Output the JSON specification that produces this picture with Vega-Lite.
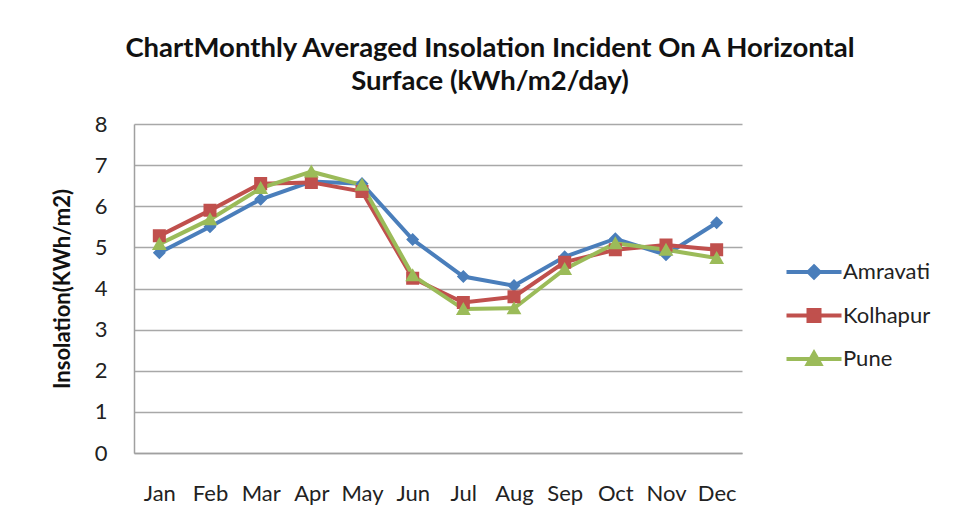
{
  "$schema": "https://vega.github.io/schema/vega-lite/v6.json",
  "width": 608,
  "height": 329,
  "autosize": {"type": "none"},
  "padding": {"left": 134, "top": 124, "right": 215, "bottom": 72},
  "background": "white",
  "title": {
    "text": ["ChartMonthly Averaged Insolation Incident On A Horizontal", "Surface (kWh/m2/day)"],
    "anchor": "middle",
    "frame": "group",
    "dx": 52,
    "offset": 18,
    "font": "Lato",
    "fontSize": 27.5,
    "fontWeight": "bold",
    "lineHeight": 33,
    "color": "#111111"
  },
  "config": {
    "view": {"stroke": null},
    "font": "Lato"
  },
  "data": {
    "values": [
      {"month": "Jan", "city": "Amravati", "value": 4.87},
      {"month": "Feb", "city": "Amravati", "value": 5.5},
      {"month": "Mar", "city": "Amravati", "value": 6.17},
      {"month": "Apr", "city": "Amravati", "value": 6.6},
      {"month": "May", "city": "Amravati", "value": 6.55},
      {"month": "Jun", "city": "Amravati", "value": 5.19},
      {"month": "Jul", "city": "Amravati", "value": 4.29},
      {"month": "Aug", "city": "Amravati", "value": 4.07},
      {"month": "Sep", "city": "Amravati", "value": 4.77},
      {"month": "Oct", "city": "Amravati", "value": 5.21},
      {"month": "Nov", "city": "Amravati", "value": 4.82},
      {"month": "Dec", "city": "Amravati", "value": 5.6},
      {"month": "Jan", "city": "Kolhapur", "value": 5.28},
      {"month": "Feb", "city": "Kolhapur", "value": 5.9},
      {"month": "Mar", "city": "Kolhapur", "value": 6.55},
      {"month": "Apr", "city": "Kolhapur", "value": 6.58},
      {"month": "May", "city": "Kolhapur", "value": 6.36},
      {"month": "Jun", "city": "Kolhapur", "value": 4.25},
      {"month": "Jul", "city": "Kolhapur", "value": 3.66},
      {"month": "Aug", "city": "Kolhapur", "value": 3.8},
      {"month": "Sep", "city": "Kolhapur", "value": 4.64},
      {"month": "Oct", "city": "Kolhapur", "value": 4.94},
      {"month": "Nov", "city": "Kolhapur", "value": 5.06},
      {"month": "Dec", "city": "Kolhapur", "value": 4.94},
      {"month": "Jan", "city": "Pune", "value": 5.08},
      {"month": "Feb", "city": "Pune", "value": 5.68},
      {"month": "Mar", "city": "Pune", "value": 6.44},
      {"month": "Apr", "city": "Pune", "value": 6.84},
      {"month": "May", "city": "Pune", "value": 6.52},
      {"month": "Jun", "city": "Pune", "value": 4.32},
      {"month": "Jul", "city": "Pune", "value": 3.5},
      {"month": "Aug", "city": "Pune", "value": 3.52},
      {"month": "Sep", "city": "Pune", "value": 4.47},
      {"month": "Oct", "city": "Pune", "value": 5.1},
      {"month": "Nov", "city": "Pune", "value": 4.94},
      {"month": "Dec", "city": "Pune", "value": 4.74}
    ]
  },
  "encoding": {
    "x": {
      "field": "month",
      "type": "ordinal",
      "sort": ["Jan", "Feb", "Mar", "Apr", "May", "Jun", "Jul", "Aug", "Sep", "Oct", "Nov", "Dec"],
      "scale": {"type": "point", "padding": 0.5},
      "axis": {
        "title": null,
        "labelAngle": 0,
        "ticks": false,
        "labelPadding": 30,
        "labelFontSize": 22,
        "labelColor": "#222222",
        "domainColor": "#A0A0A0",
        "domainWidth": 1.5,
        "grid": false
      }
    },
    "y": {
      "field": "value",
      "type": "quantitative",
      "scale": {"domain": [0, 8], "nice": false},
      "axis": {
        "title": "Insolation(KWh/m2)",
        "values": [0, 1, 2, 3, 4, 5, 6, 7, 8],
        "ticks": false,
        "labelPadding": 27,
        "labelFontSize": 22,
        "labelColor": "#222222",
        "domainColor": "#A0A0A0",
        "domainWidth": 1.5,
        "gridColor": "#A8A8A8",
        "gridWidth": 1.5,
        "titleFontSize": 22,
        "titleFontWeight": "bold",
        "titleColor": "#111111",
        "titlePadding": 20
      }
    },
    "color": {
      "field": "city",
      "type": "nominal",
      "scale": {"domain": ["Amravati", "Kolhapur", "Pune"], "range": ["#4A7EBB", "#C0504D", "#9BBB59"]},
      "legend": {
        "title": null,
        "orient": "none",
        "legendX": 669,
        "legendY": 137,
        "padding": 0,
        "symbolSize": 100,
        "symbolStrokeWidth": 4,
        "symbolOpacity": 1,
        "labelOffset": 18,
        "labelFontSize": 22,
        "labelColor": "#222222",
        "rowPadding": 15.5,
        "encode": {
          "symbols": {
            "update": {
              "stroke": {"scale": "color", "field": "value"},
              "fill": {"scale": "color", "field": "value"},
              "strokeWidth": {"value": 4},
              "size": {"value": 100}
            }
          }
        }
      }
    }
  },
  "layer": [
    {
      "mark": {"type": "line", "strokeWidth": 4}
    },
    {
      "mark": {"type": "point", "filled": true, "opacity": 1, "size": 140, "strokeWidth": 0},
      "encoding": {
        "shape": {
          "field": "city",
          "type": "nominal",
          "scale": {"domain": ["Amravati", "Kolhapur", "Pune"], "range": ["M-5.5,0H5.5M0,-1.1L1.1,0L0,1.1L-1.1,0Z", "M-5.5,0H5.5M-1.1,-1.1H1.1V1.1H-1.1Z", "M-5.5,0H5.5M0,-1.2L1.25,1H-1.25Z"]},
          "legend": {
            "title": null,
            "orient": "none",
            "legendX": 669,
            "legendY": 137,
            "padding": 0,
            "symbolSize": 100,
            "symbolStrokeWidth": 4,
            "symbolOpacity": 1,
            "labelOffset": 18,
            "labelFontSize": 22,
            "labelColor": "#222222",
            "rowPadding": 15.5,
            "encode": {
              "symbols": {
                "update": {
                  "stroke": {"scale": "color", "field": "value"},
                  "fill": {"scale": "color", "field": "value"},
                  "strokeWidth": {"value": 4},
                  "size": {"value": 100}
                }
              }
            }
          }
        }
      }
    }
  ]
}
